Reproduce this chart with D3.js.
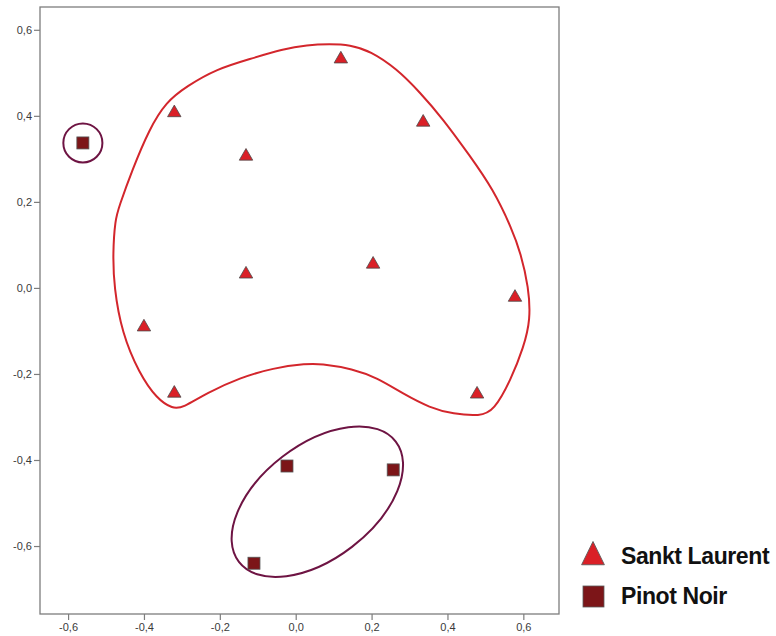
<!DOCTYPE html>
<html>
<head>
<meta charset="utf-8">
<script src="https://cdn.jsdelivr.net/npm/d3@7"></script>
<style>
  html, body { margin: 0; padding: 0; background: #fff; }
  svg { display: block; }
  .tick text { font-family: "Liberation Sans", Arial, sans-serif; font-size: 11px; fill: #3a3a3a; }
</style>
</head>
<body>
<svg id="chart" width="776" height="636"></svg>
<script>
// ---- data ----
const tickValues = [-0.6, -0.4, -0.2, 0.0, 0.2, 0.4, 0.6];

const sanktLaurent = [
  [0.119, 0.532], [-0.320, 0.407], [0.336, 0.385], [-0.131, 0.306],
  [-0.131, 0.032], [0.204, 0.055], [0.578, -0.022], [-0.400, -0.091],
  [-0.320, -0.245], [0.478, -0.247]
];

const pinotNoir = [
  [-0.561, 0.337], [-0.023, -0.414], [0.257, -0.423], [-0.110, -0.640]
];

// outline around Sankt Laurent group (data coordinates)
const sanktOutline = [
  [0.090, 0.567], [0.143, 0.565], [0.196, 0.551], [0.267, 0.509], [0.327, 0.455],
  [0.388, 0.393], [0.459, 0.307], [0.520, 0.230], [0.570, 0.137], [0.593, 0.081],
  [0.614, 0.002], [0.619, -0.074], [0.601, -0.137], [0.567, -0.214], [0.522, -0.286],
  [0.486, -0.298], [0.415, -0.293], [0.354, -0.279], [0.283, -0.246], [0.214, -0.209],
  [0.151, -0.188], [0.064, -0.176], [0.030, -0.176], [-0.060, -0.186], [-0.147, -0.209],
  [-0.234, -0.244], [-0.298, -0.279], [-0.324, -0.281], [-0.366, -0.258], [-0.413, -0.198],
  [-0.458, -0.105], [-0.479, 0.002], [-0.482, 0.081], [-0.476, 0.158], [-0.466, 0.188],
  [-0.431, 0.274], [-0.386, 0.369], [-0.342, 0.432], [-0.287, 0.469], [-0.208, 0.509],
  [-0.121, 0.532], [-0.034, 0.555], [0.030, 0.565]
];

// Pinot Noir enclosures: [cx, cy, rx, ry (x-units), angle deg]
const pinotEnclosures = [
  [-0.561, 0.337, 0.0515, 0.0515, 0],
  [0.057, -0.497, 0.2605, 0.150, -37.5]
];

const legendLabels = ["Sankt Laurent", "Pinot Noir"];

// ---- layout ----
const svg = d3.select("#chart");
const mLeft = 40, mRight = 559, mTop = 7, mBottom = 614;

const x = d3.scaleLinear().domain([-0.674, 0.694]).range([mLeft, mRight]);
const y = d3.scaleLinear().domain([-0.758, 0.653]).range([mBottom, mTop]);

const loc = d3.formatLocale({decimal: ",", thousands: ".", grouping: [3], currency: ["", ""], minus: "-"});
const fmt = loc.format(".1f");

const colRed = "#da2027";
const colRedLine = "#d3262c";
const colMaroon = "#7c1518";
const colPurple = "#6e1443";

// frame
svg.append("rect")
  .attr("x", mLeft).attr("y", mTop)
  .attr("width", mRight - mLeft).attr("height", mBottom - mTop)
  .attr("fill", "#fff").attr("stroke", "#7d7d7d").attr("stroke-width", 1.3);

// axes
const gx = svg.append("g").attr("transform", `translate(0,${mBottom})`)
  .call(d3.axisBottom(x).tickValues(tickValues).tickFormat(fmt).tickSize(6).tickPadding(3));
const gy = svg.append("g").attr("transform", `translate(${mLeft},0)`)
  .call(d3.axisLeft(y).tickValues(tickValues).tickFormat(fmt).tickSize(6).tickPadding(2));
[gx, gy].forEach(g => {
  g.select(".domain").remove();
  g.selectAll(".tick line").attr("stroke", "#7d7d7d").attr("stroke-width", 1.2);
});

// Sankt Laurent outline
svg.append("path")
  .datum(sanktOutline)
  .attr("d", d3.line().x(d => x(d[0])).y(d => y(d[1])).curve(d3.curveBasisClosed))
  .attr("fill", "none").attr("stroke", colRedLine).attr("stroke-width", 2);

// Pinot Noir enclosures
const kx = x(1) - x(0);
svg.selectAll("ellipse.enc").data(pinotEnclosures).join("ellipse")
  .attr("class", "enc")
  .attr("transform", d => `translate(${x(d[0])},${y(d[1])}) rotate(${d[4]})`)
  .attr("rx", d => d[2] * kx).attr("ry", d => d[3] * kx)
  .attr("fill", "none").attr("stroke", colPurple).attr("stroke-width", 2);

// markers
const tri = d3.symbol().type(d3.symbolTriangle).size(78);
svg.selectAll("path.sl").data(sanktLaurent).join("path")
  .attr("class", "sl")
  .attr("transform", d => `translate(${x(d[0])},${y(d[1])})`)
  .attr("d", tri)
  .attr("fill", colRed).attr("stroke", "#4a4a4a").attr("stroke-width", 0.8);

const sq = 12;
svg.selectAll("rect.pn").data(pinotNoir).join("rect")
  .attr("class", "pn")
  .attr("x", d => x(d[0]) - sq / 2).attr("y", d => y(d[1]) - sq / 2)
  .attr("width", sq).attr("height", sq)
  .attr("fill", colMaroon).attr("stroke", "#555").attr("stroke-width", 0.8);

// legend
const lg = svg.append("g");
lg.append("path")
  .attr("transform", "translate(593,557) scale(1,1.18)")
  .attr("d", d3.symbol().type(d3.symbolTriangle).size(225)())
  .attr("fill", colRed).attr("stroke", "#5a5a5a").attr("stroke-width", 0.8);
lg.append("rect")
  .attr("x", 583).attr("y", 586).attr("width", 21).attr("height", 21)
  .attr("fill", colMaroon).attr("stroke", "#5a5a5a").attr("stroke-width", 0.8);
lg.selectAll("text").data(legendLabels).join("text")
  .attr("x", 621).attr("y", (d, i) => 564 + i * 40)
  .attr("font-family", "Liberation Sans, Arial, sans-serif")
  .attr("font-weight", "bold").attr("font-size", 23)
  .attr("letter-spacing", -0.4)
  .attr("fill", "#111")
  .text(d => d);
</script>
</body>
</html>
